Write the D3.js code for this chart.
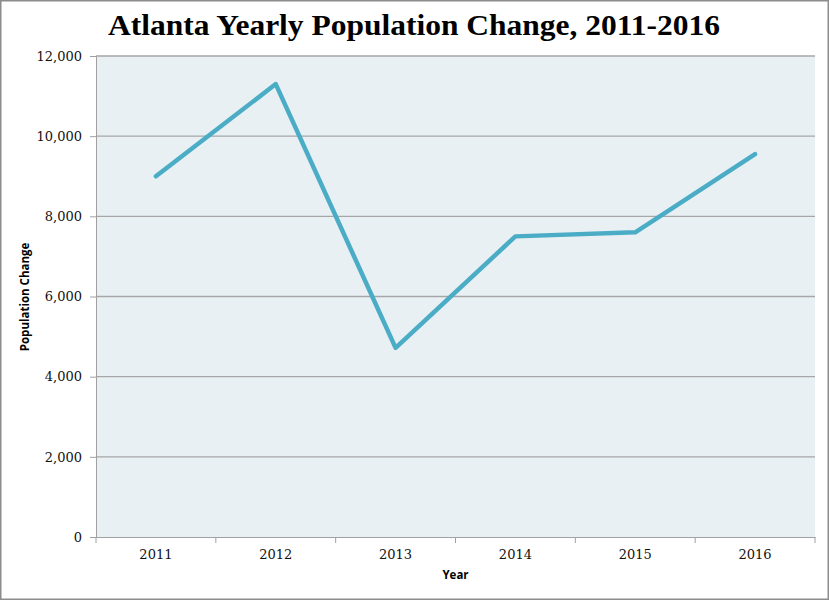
<!DOCTYPE html>
<html>
<head>
<meta charset="utf-8">
<script src="https://cdn.jsdelivr.net/npm/d3@7"></script>
<style>
  body { margin: 0; background: #fff; }
  svg { display: block; }
</style>
</head>
<body>
<svg id="chart"></svg>
<script>
// values
const years = ["2011", "2012", "2013", "2014", "2015", "2016"];
const popChange = [9000, 11300, 4720, 7500, 7600, 9550];
const yTicks = [0, 2000, 4000, 6000, 8000, 10000, 12000];

const W = 829, H = 600;
const margin = {top: 56, right: 14, bottom: 63, left: 96};
const w = W - margin.left - margin.right;
const h = H - margin.top - margin.bottom;

const svg = d3.select('#chart')
  .attr('width', W)
  .attr('height', H);

// outer frame
svg.append('rect')
  .attr('x', 0.75).attr('y', 0.75)
  .attr('width', W - 1.5).attr('height', H - 1.5)
  .attr('fill', '#fff')
  .attr('stroke', '#8c8c8c')
  .attr('stroke-width', 1.5);

const g = svg.append('g')
  .attr('transform', `translate(${margin.left},${margin.top})`);

// scales
const x = d3.scaleBand()
  .domain(years)
  .range([0, w]);
const y = d3.scaleLinear()
  .domain([0, 12000])
  .range([h, 0]);

// plot background
g.append('rect')
  .attr('width', w)
  .attr('height', h)
  .attr('fill', '#e8f0f4');

// gridlines
g.selectAll('.grid')
  .data(yTicks.filter(d => d > 0))
  .join('line')
    .attr('x1', 0)
    .attr('x2', w)
    .attr('y1', d => y(d))
    .attr('y2', d => y(d))
    .attr('stroke', '#a6a6a6')
    .attr('stroke-width', 1.3);

// y axis
const yAxis = d3.axisLeft(y)
  .tickValues(yTicks)
  .tickSize(6)
  .tickPadding(8)
  .tickFormat(d3.format(','));
const ya = g.append('g').call(yAxis);
ya.select('.domain').attr('stroke', '#a0a0a0');
ya.selectAll('.tick line').attr('stroke', '#a0a0a0');
ya.selectAll('text')
  .attr('font-family', '"DejaVu Serif", serif')
  .attr('font-size', 13)
  .attr('fill', '#111');

// x axis, ticks on band edges
const xa = g.append('g')
  .attr('transform', `translate(0,${h})`)
  .call(d3.axisBottom(x).tickSize(0).tickPadding(13));
xa.select('.domain').attr('stroke', '#a0a0a0');
xa.selectAll('text')
  .attr('font-family', '"DejaVu Serif", serif')
  .attr('font-size', 13)
  .attr('fill', '#111');
xa.selectAll('.edge')
  .data(years.map(d => x(d)).concat([w]))
  .join('line')
    .attr('x1', d => d).attr('x2', d => d)
    .attr('y1', 0).attr('y2', 6)
    .attr('stroke', '#a0a0a0');

// line
const line = d3.line()
  .x((d, i) => x(years[i]) + x.bandwidth() / 2)
  .y(d => y(d));
g.append('path')
  .datum(popChange)
  .attr('d', line)
  .attr('fill', 'none')
  .attr('stroke', '#4bacc6')
  .attr('stroke-width', 4.5)
  .attr('stroke-linejoin', 'round')
  .attr('stroke-linecap', 'round');

// title
svg.append('text')
  .attr('x', 414)
  .attr('y', 35)
  .attr('text-anchor', 'middle')
  .attr('font-family', '"Liberation Serif", serif')
  .attr('font-weight', 'bold')
  .attr('font-size', 29)
  .attr('textLength', 612)
  .attr('lengthAdjust', 'spacingAndGlyphs')
  .attr('fill', '#000')
  .text('Atlanta Yearly Population Change, 2011-2016');

// axis titles
svg.append('text')
  .attr('x', margin.left + w / 2)
  .attr('y', 579)
  .attr('text-anchor', 'middle')
  .attr('font-family', '"Open Sans", sans-serif')
  .attr('font-weight', 'bold')
  .attr('font-size', 11.5)
  .text('Year');

svg.append('text')
  .attr('transform', 'translate(29,297) rotate(-90)')
  .attr('text-anchor', 'middle')
  .attr('font-family', '"Open Sans", sans-serif')
  .attr('font-weight', 'bold')
  .attr('font-size', 11.5)
  .text('Population Change');
</script>
</body>
</html>
